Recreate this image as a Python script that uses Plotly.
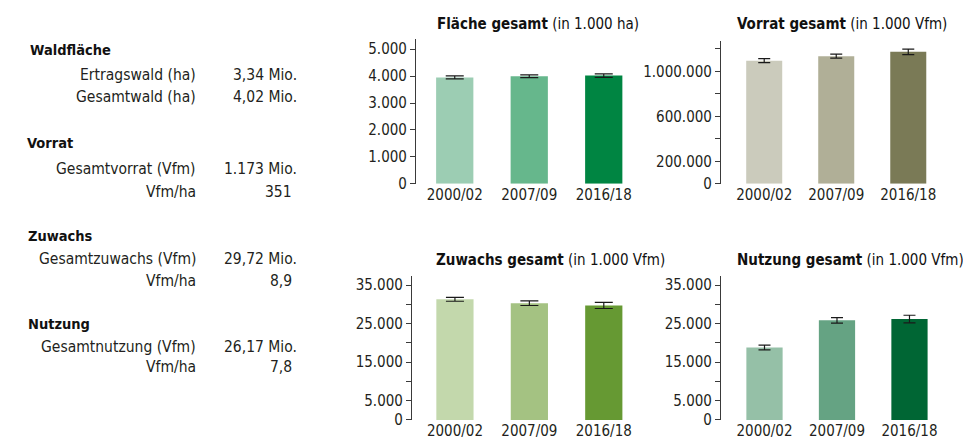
import plotly.graph_objects as go

W, H = 963, 444          # target picture size
H_FIG = 455              # figure height (the capture shows it slightly compressed)
FONT = "DejaVu Sans Condensed, Liberation Sans Narrow, sans-serif"
TXT = "#231f20"

periods = ["2000/02", "2007/09", "2016/18"]

flaeche = [3950, 3995, 4020]
flaeche_err = [55, 50, 65]
vorrat = [1095000, 1135000, 1173000]
vorrat_err = [18000, 18000, 25000]
zuwachs = [31300, 30300, 29720]
zuwachs_err = [500, 600, 800]
nutzung = [18800, 25850, 26170]
nutzung_err = [600, 700, 1000]

col_flaeche = ["#9ccdb3", "#66b78c", "#008542"]
col_vorrat = ["#cbcbbc", "#b0af97", "#7a7a56"]
col_zuwachs = ["#c3d8ac", "#a4c282", "#669933"]
col_nutzung = ["#95c0a7", "#65a383", "#006634"]

titles_bold = ["Fläche gesamt", "Vorrat gesamt", "Zuwachs gesamt", "Nutzung gesamt"]
titles_unit = ["(in 1.000 ha)", "(in 1.000 Vfm)", "(in 1.000 Vfm)", "(in 1.000 Vfm)"]

y_flaeche_ticks = [0, 1000, 2000, 3000, 4000, 5000]
y_flaeche_text = ["0", "1.000", "2.000", "3.000", "4.000", "5.000"]
y_vorrat_ticks = [0, 200000, 400000, 600000, 800000, 1000000, 1200000]
y_vorrat_text = ["0", "200.000", "", "600.000", "", "1.000.000", ""]
y_vfm_ticks = [0, 5000, 10000, 15000, 20000, 25000, 30000, 35000]
y_vfm_text = ["0", "5.000", "", "15.000", "", "25.000", "", "35.000"]

# left summary block
sec_names = ["Waldfläche", "Vorrat", "Zuwachs", "Nutzung"]
sec_rows = [
    [("Ertragswald (ha)", "3,34 Mio."), ("Gesamtwald (ha)", "4,02 Mio.")],
    [("Gesamtvorrat (Vfm)", "1.173 Mio."), ("Vfm/ha", "351")],
    [("Gesamtzuwachs (Vfm)", "29,72 Mio."), ("Vfm/ha", "8,9")],
    [("Gesamtnutzung (Vfm)", "26,17 Mio."), ("Vfm/ha", "7,8")],
]


def px(x):
    return x / W


def py(y):
    return 1 - y / H


fig = go.Figure()

panels = [
    (flaeche, flaeche_err, col_flaeche, "x", "y", (416, 641), (183, 39), [-0.52, 2.5], [0, 5370],
     y_flaeche_ticks, y_flaeche_text, 9),
    (vorrat, vorrat_err, col_vorrat, "x2", "y2", (721, 945), (183, 41), [-0.6, 2.51], [0, 1268000],
     y_vorrat_ticks, y_vorrat_text, 6),
    (zuwachs, zuwachs_err, col_zuwachs, "x3", "y3", (412, 641), (418, 275), [-0.577, 2.5], [0, 37300],
     y_vfm_ticks, y_vfm_text, 9),
    (nutzung, nutzung_err, col_nutzung, "x4", "y4", (721, 945), (418, 275), [-0.6, 2.49], [0, 37300],
     y_vfm_ticks, y_vfm_text, 6),
]

for i, (vals, errs, cols, xa, ya, xd, yd, xr, yr, tv, tt, capw) in enumerate(panels):
    fig.add_trace(go.Bar(
        x=periods, y=vals, xaxis=xa, yaxis=ya, width=0.5,
        marker=dict(color=cols, line=dict(width=0)),
        error_y=dict(type="data", array=errs, visible=True, color="#1a1a1a",
                     thickness=1.2, width=capw),
        showlegend=False, hoverinfo="skip",
    ))
    sfx = "" if i == 0 else str(i + 1)
    fig.layout["xaxis" + sfx] = dict(
        domain=[px(xd[0]), px(xd[1])], anchor=ya, type="category", range=xr,
        showline=False, showgrid=False, zeroline=False, ticks="",
        tickfont=dict(family=FONT, size=15, color=TXT), fixedrange=True,
    )
    fig.layout["yaxis" + sfx] = dict(
        domain=[py(yd[0]), py(yd[1])], anchor=xa, range=yr,
        showline=True, linecolor="#3a3a3a", linewidth=1.2,
        showgrid=False, zeroline=False, ticks="outside", ticklen=5,
        tickcolor="#3a3a3a", tickwidth=1.2,
        tickvals=tv, ticktext=tt,
        tickfont=dict(family=FONT, size=15, color=TXT), fixedrange=True,
    )

title_pos = [(435, 24), (735, 24), (434, 259), (735, 259)]
annotations = []
for (tx, ty), tb, tu in zip(title_pos, titles_bold, titles_unit):
    annotations.append(dict(
        x=px(tx), y=py(ty), xref="paper", yref="paper", xanchor="left", yanchor="middle",
        text=f"<b>{tb}</b> {tu}", showarrow=False,
        font=dict(family=FONT, size=15, color="#111"),
    ))

sec_y = [50, 142, 235, 323]
sec_x = [28, 25, 26, 26]
row_y = [[75, 97], [168, 191], [258, 280], [345, 365]]
for name, sx, sy, rows, ry in zip(sec_names, sec_x, sec_y, sec_rows, row_y):
    annotations.append(dict(
        x=px(sx), y=py(sy), xref="paper", yref="paper", xanchor="left", yanchor="middle",
        text=f"<b>{name}</b>", showarrow=False, font=dict(family=FONT, size=14.5, color="#111"),
    ))
    for (lab, val), yy in zip(rows, ry):
        annotations.append(dict(
            x=px(198), y=py(yy), xref="paper", yref="paper", xanchor="right", yanchor="middle",
            text=lab, showarrow=False, font=dict(family=FONT, size=15.5, color=TXT),
        ))
        vx = 299 if "Mio" in val else 294
        annotations.append(dict(
            x=px(vx), y=py(yy), xref="paper", yref="paper", xanchor="right", yanchor="middle",
            text=val, showarrow=False, font=dict(family=FONT, size=15.5, color=TXT),
        ))

fig.update_layout(
    width=W, height=H_FIG, autosize=False, margin=dict(l=0, r=0, t=0, b=0),
    paper_bgcolor="white", plot_bgcolor="white",
    annotations=annotations, bargap=0.5,
)

fig.write_html(
    "out.html",
    config={"responsive": False, "displayModeBar": False},
    post_script="document.body.style.margin='0';document.body.style.overflow='hidden';",
)
